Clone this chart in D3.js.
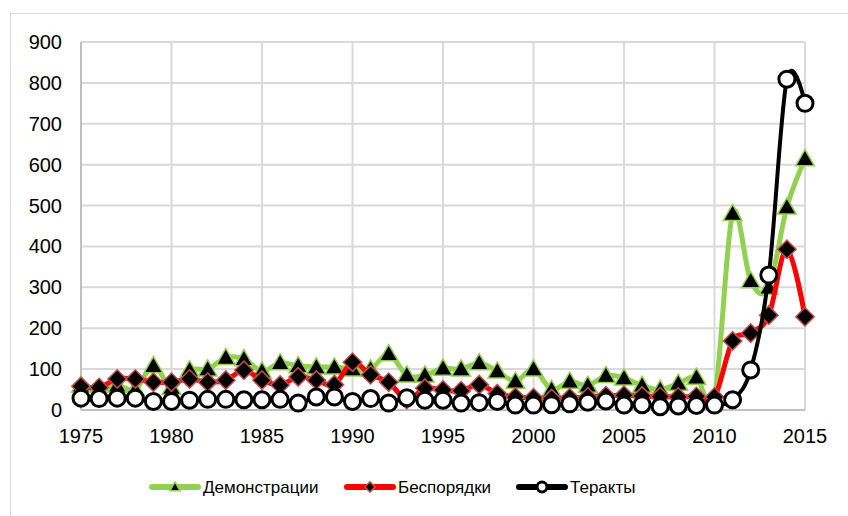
<!DOCTYPE html>
<html><head><meta charset="utf-8">
<script src="https://cdn.jsdelivr.net/npm/d3@7"></script>
<style>body{margin:0;background:#fff;}svg{display:block;font-family:"Liberation Sans",Arial,sans-serif;}</style>
</head><body>
<script>
const years = d3.range(1975, 2016);
const demonstrations = [60,45,60,50,108,55,98,100,128,125,95,115,108,105,105,100,100,137,85,85,102,100,115,95,70,100,50,70,60,84,78,60,50,65,80,30,480,316,300,496,614];
const riots = [58,55,76,76,68,68,76,68,73,97,73,61,81,73,62,117,86,68,25,53,49,47,62,40,32,30,28,30,32,35,36,34,33,32,33,32,169,188,232,393,228];
const terror = [29,28,29,29,21,21,24,26,26,25,25,26,17,32,32,21,28,17,30,24,24,17,18,21,12,12,13,15,19,22,12,13,8,10,11,12,25,98,330,809,750];
const seriesNames = ["Демонстрации","Беспорядки","Теракты"];
const yTicks = [0,100,200,300,400,500,600,700,800,900];
const xTicks = [1975,1980,1985,1990,1995,2000,2005,2010,2015];

const W = 848, H = 516;
const svg = d3.select("body").append("svg").attr("width", W).attr("height", H);
svg.append("rect").attr("x",10.5).attr("y",13.5).attr("width",860).attr("height",530)
  .attr("fill","#fff").attr("stroke","#d9d9d9").attr("stroke-width",1);

const x = d3.scaleLinear().domain([1975, 2015]).range([81, 805]);
const y = d3.scaleLinear().domain([0, 900]).range([410, 42]);

// grid
svg.append("g").selectAll("line").data(yTicks.slice(1)).join("line")
  .attr("x1", 81).attr("x2", 805).attr("y1", d=>y(d)).attr("y2", d=>y(d))
  .attr("stroke","#d9d9d9").attr("stroke-width",2);
svg.append("g").selectAll("line").data(xTicks.slice(1)).join("line")
  .attr("x1", d=>x(d)).attr("x2", d=>x(d)).attr("y1", 42).attr("y2", 410)
  .attr("stroke","#d9d9d9").attr("stroke-width",2);
// axes lines
svg.append("line").attr("x1",81).attr("x2",81).attr("y1",42).attr("y2",410).attr("stroke","#bfbfbf").attr("stroke-width",2);
svg.append("line").attr("x1",81).attr("x2",805).attr("y1",410).attr("y2",410).attr("stroke","#bfbfbf").attr("stroke-width",2);

// tick labels
svg.append("g").selectAll("text").data(yTicks).join("text")
  .attr("x", 62).attr("y", d=>y(d)+7).attr("text-anchor","end")
  .attr("font-size",20).attr("fill","#000").text(d=>d);
svg.append("g").selectAll("text").data(xTicks).join("text")
  .attr("x", d=>x(d)).attr("y", 443).attr("text-anchor","middle")
  .attr("font-size",20).attr("fill","#000").text(d=>d);

const line = d3.line().x((d,i)=>x(years[i])).y(d=>y(d)).curve(d3.curveCardinal.tension(0));

function drawSeries(vals, color, width, markerFn){
  svg.append("path").datum(vals).attr("d", line).attr("fill","none")
    .attr("stroke", color).attr("stroke-width", width).attr("stroke-linejoin","round");
  const g = svg.append("g");
  vals.forEach((v,i)=>markerFn(g, x(years[i]), y(v), 1));
}
function triMarker(g, cx, cy, s){
  g.append("path").attr("d", d3.symbol().type(d3.symbolTriangle).size(150*s*s)())
    .attr("transform",`translate(${cx},${cy+1.5*s})`).attr("fill","#000").attr("stroke","#92d050").attr("stroke-width",1.5);
}
function diaMarker(g, cx, cy, s){
  g.append("path").attr("d", d3.symbol().type(d3.symbolSquare).size(170*s*s)())
    .attr("transform",`translate(${cx},${cy}) rotate(45)`).attr("fill","#000").attr("stroke","#c0504d").attr("stroke-width",1.5);
}
function circMarker(g, cx, cy, s){
  g.append("circle").attr("cx",cx).attr("cy",cy).attr("r",8*s)
    .attr("fill","#fff").attr("stroke","#000").attr("stroke-width",3);
}

drawSeries(demonstrations, "#92d050", 5, triMarker);
drawSeries(riots, "#ff0000", 5, diaMarker);
drawSeries(terror, "#000000", 4, circMarker);

// legend
const leg = [
  {name: seriesNames[0], color:"#92d050", x0:152, m:triMarker},
  {name: seriesNames[1], color:"#ff0000", x0:347, m:diaMarker},
  {name: seriesNames[2], color:"#000000", x0:519, m:circMarker}
];
const ly = 487;
leg.forEach(l=>{
  const g = svg.append("g");
  g.append("line").attr("x1",l.x0).attr("x2",l.x0+46).attr("y1",ly).attr("y2",ly)
    .attr("stroke",l.color).attr("stroke-width",6).attr("stroke-linecap","round");
  l.m(g, l.x0+23, ly, l.m===circMarker?0.62:0.55);
  g.append("text").attr("x",l.x0+51).attr("y",ly+6).attr("font-size",17).attr("fill","#000").text(l.name);
});
</script>
</body></html>
